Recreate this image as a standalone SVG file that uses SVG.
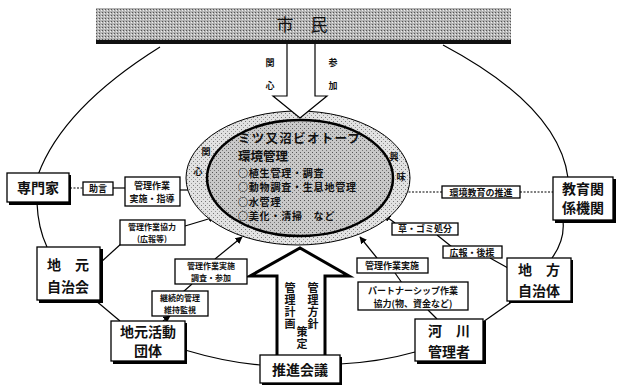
<svg xmlns="http://www.w3.org/2000/svg" width="618" height="385" viewBox="0 0 618 385">
<defs>
<pattern id="dots" width="4" height="4" patternUnits="userSpaceOnUse">
<rect width="4" height="4" fill="#c8c8c8"/>
<rect x="0" y="0" width="1" height="1" fill="#555"/>
<rect x="2" y="2" width="1" height="1" fill="#777"/>
</pattern>
<pattern id="dotsL" width="4" height="4" patternUnits="userSpaceOnUse">
<rect width="4" height="4" fill="#e2e2e2"/>
<rect x="1" y="1" width="1" height="1" fill="#777"/>
<rect x="3" y="3" width="1" height="1" fill="#999"/>
</pattern>
<pattern id="dotsB" width="3" height="3" patternUnits="userSpaceOnUse">
<rect width="3" height="3" fill="#b4b4b4"/>
<rect x="0" y="0" width="1" height="1" fill="#555"/>
<rect x="2" y="1" width="1" height="1" fill="#eee"/>
</pattern>
<marker id="ah" viewBox="0 0 10 10" refX="9" refY="5" markerWidth="6" markerHeight="6" orient="auto">
<path d="M0,0 L10,5 L0,10 z" fill="#000"/>
</marker>
</defs>
<style>
text{font-family:"Noto Sans CJK JP","Noto Sans",sans-serif;fill:#111}
.node{font-size:14px;font-weight:bold;text-anchor:middle}
.lbl{font-size:9px;font-weight:bold;text-anchor:middle}
.sm{font-size:8px;font-weight:bold;text-anchor:middle}
.vt{font-size:11px;font-weight:bold;writing-mode:vertical-rl;letter-spacing:1px}
.box{fill:#fff;stroke:#000;stroke-width:1.3}
.shadow{fill:#000}
.line{fill:none;stroke:#000;stroke-width:1.2}
.dot{fill:none;stroke:#000;stroke-width:1.2;stroke-dasharray:2 1.5}
.arr{fill:none;stroke:#000;stroke-width:1.2;marker-end:url(#ah)}
.big{font-size:12.5px;font-weight:bold}
.inner{font-size:10px;font-weight:bold;letter-spacing:0.8px}
</style>
<rect width="618" height="385" fill="#fff"/>

<g id="connectors">
<path class="line" d="M160,47 C120,72 60,115 38,175"/>
<path class="line" d="M443,45 C490,70 560,115 568,178"/>
<path class="line" d="M37,203 Q38,228 47,247"/>
<path class="line" d="M95,300 L120,321"/>
<path class="line" d="M185,350 Q225,362 260,365"/>
<path class="line" d="M340,364 Q380,362 415,352"/>
<path class="line" d="M483,322 L513,301"/>
<path class="line" d="M552,258 Q565,240 563,221"/>
<path class="dot" d="M70,188 L83,188"/>
<path class="line" d="M113,188 L125,188"/>
<path class="arr" d="M180,190 L208,190"/>
<path class="line" d="M100,263 L122,243"/>
<path class="arr" d="M185,226 L215,217"/>
<path class="arr" d="M215,259 L242,237"/>
<path class="line" d="M183,292 L192,284"/>
<path class="arr" d="M163,321 L170,316"/>
<path class="dot" d="M442,192 L394,192"/>
<path class="dot" d="M520,192 L553,192"/>
<path class="arr" d="M395,223 L384,215"/>
<path class="line" d="M437,235 L452,247"/>
<path class="line" d="M490,258 L508,268"/>
<path class="arr" d="M377,258 L360,237"/>
<path class="line" d="M395,273 L402,283"/>
<path class="line" d="M428,310 L437,319"/>
</g>

<g id="banner">
<rect x="96" y="8" width="415" height="34" fill="url(#dotsB)"/>
<rect x="96" y="40" width="415" height="4" fill="#111"/>
<text x="302" y="31" font-size="17" text-anchor="middle">市　民</text>
</g>

<g id="center">
<ellipse cx="298" cy="178" rx="112" ry="67" fill="url(#dotsL)" stroke="#000" stroke-width="1"/>
<ellipse cx="300" cy="178" rx="93" ry="58" fill="url(#dots)" stroke="#000" stroke-width="2.5"/>
<text class="big" x="238" y="143" textLength="122">ミツ又沼ビオトープ</text>
<text class="big" x="238" y="161.3">環境管理</text>
<text class="inner" x="238" y="176.6">○植生管理・調査</text>
<text class="inner" x="238" y="191.2">○動物調査・生息地管理</text>
<text class="inner" x="238" y="205.8">○水管理</text>
<text class="inner" x="238" y="220.4">○美化・清掃　など</text>
<text class="lbl" x="206" y="155" font-size="10">関</text>
<text class="lbl" x="198" y="175" font-size="10">心</text>
<text class="lbl" x="394" y="160" font-size="10">興</text>
<text class="lbl" x="401" y="180" font-size="10">味</text>
</g>

<g id="arrow-top">
<path d="M287,44 L287,96 L273,96 L300,118 L327,96 L315,96 L315,44" fill="#fff" stroke="#000" stroke-width="1.2"/>
<text class="lbl" x="270" y="66" font-size="10">関</text>
<text class="lbl" x="270" y="89" font-size="10">心</text>
<text class="lbl" x="333" y="66" font-size="10">参</text>
<text class="lbl" x="333" y="89" font-size="10">加</text>
</g>

<g id="arrow-bottom">
<path d="M277,356 L277,276 L250,276 L300,248 L349,276 L325,276 L325,356" fill="#fff" stroke="#000" stroke-width="3"/>
<text class="vt" x="290" y="282">管理計画</text>
<text class="vt" x="313" y="282">管理方針</text>
<text class="vt" x="302" y="326">策定</text>
</g>

<g id="n-senmonka">
<rect class="shadow" x="9" y="175" width="62" height="30"/>
<rect class="box" x="7" y="173" width="62" height="29"/>
<text class="node" x="38" y="193" font-size="13">専門家</text>
</g>
<g id="n-jimoto-jichikai">
<rect class="shadow" x="39" y="249" width="64" height="54"/>
<rect class="box" x="37" y="247" width="63" height="53"/>
<text class="node" x="68" y="270" font-size="15">地　元</text>
<text class="node" x="68" y="292.2" font-size="15">自治会</text>
</g>
<g id="n-katsudo">
<rect class="shadow" x="113" y="323" width="74" height="41"/>
<rect class="box" x="111" y="321" width="74" height="40"/>
<text class="node" x="148" y="337" font-size="13">地元活動</text>
<text class="node" x="148" y="356.2" font-size="13">団体</text>
</g>
<g id="n-suishin">
<rect class="shadow" x="262" y="357" width="80" height="28"/>
<rect class="box" x="260" y="355" width="80" height="28" stroke-width="2"/>
<text class="node" x="300" y="375" font-size="14">推進会議</text>
</g>
<g id="n-kasen">
<rect class="shadow" x="417" y="321" width="69" height="43"/>
<rect class="box" x="415" y="319" width="68" height="42"/>
<text class="node" x="449" y="336" font-size="14">河　川</text>
<text class="node" x="449" y="356.5" font-size="14">管理者</text>
</g>
<g id="n-chiho">
<rect class="shadow" x="509" y="260" width="64" height="43"/>
<rect class="box" x="507" y="258" width="64" height="43"/>
<text class="node" x="539" y="275" font-size="14">地　方</text>
<text class="node" x="539" y="295.5" font-size="14">自治体</text>
</g>
<g id="n-kyoiku">
<rect class="shadow" x="555" y="179" width="61" height="44"/>
<rect class="box" x="553" y="177" width="60" height="43"/>
<text class="node" x="583" y="194" font-size="13">教育関</text>
<text class="node" x="583" y="213.2" font-size="13">係機関</text>
</g>

<g id="l-jogen">
<rect class="box" x="83" y="182" width="30" height="13"/>
<text class="lbl" x="98" y="192">助言</text>
</g>
<g id="l-jisshi-shido">
<rect class="box" x="125" y="177" width="55" height="29"/>
<text class="lbl" x="152" y="189">管理作業</text>
<text class="lbl" x="152" y="202.3">実施・指導</text>
</g>
<g id="l-kyoryoku">
<rect class="box" x="120" y="220" width="65" height="25"/>
<text class="sm" x="152" y="230">管理作業協力</text>
<text class="sm" x="152" y="242">(広報等)</text>
</g>
<g id="l-jisshi-sanka">
<rect class="box" x="175" y="259" width="72" height="25"/>
<text class="sm" x="211" y="269">管理作業実施</text>
<text class="sm" x="211" y="281">調査・参加</text>
</g>
<g id="l-keizoku">
<rect class="box" x="152" y="291" width="56" height="25"/>
<text class="sm" x="180" y="301">継続的管理</text>
<text class="sm" x="180" y="313">維持監視</text>
</g>
<g id="l-kankyo">
<rect class="box" x="442" y="186" width="78" height="12"/>
<text class="lbl" x="481" y="195.5">環境教育の推進</text>
</g>
<g id="l-kusa">
<rect class="box" x="392" y="223" width="66" height="12"/>
<text class="lbl" x="425" y="232">草・ゴミ処分</text>
</g>
<g id="l-koho">
<rect class="box" x="443" y="246" width="59" height="12"/>
<text class="lbl" x="472" y="255.5">広報・後援</text>
</g>
<g id="l-jisshi-r">
<rect class="box" x="357" y="258" width="71" height="15"/>
<text class="lbl" x="392" y="269">管理作業実施</text>
</g>
<g id="l-partner">
<rect class="box" x="358" y="282" width="110" height="28"/>
<text class="lbl" x="413" y="294">パートナーシップ作業</text>
<text class="lbl" x="413" y="307.3">協力(物、資金など)</text>
</g>
</svg>
